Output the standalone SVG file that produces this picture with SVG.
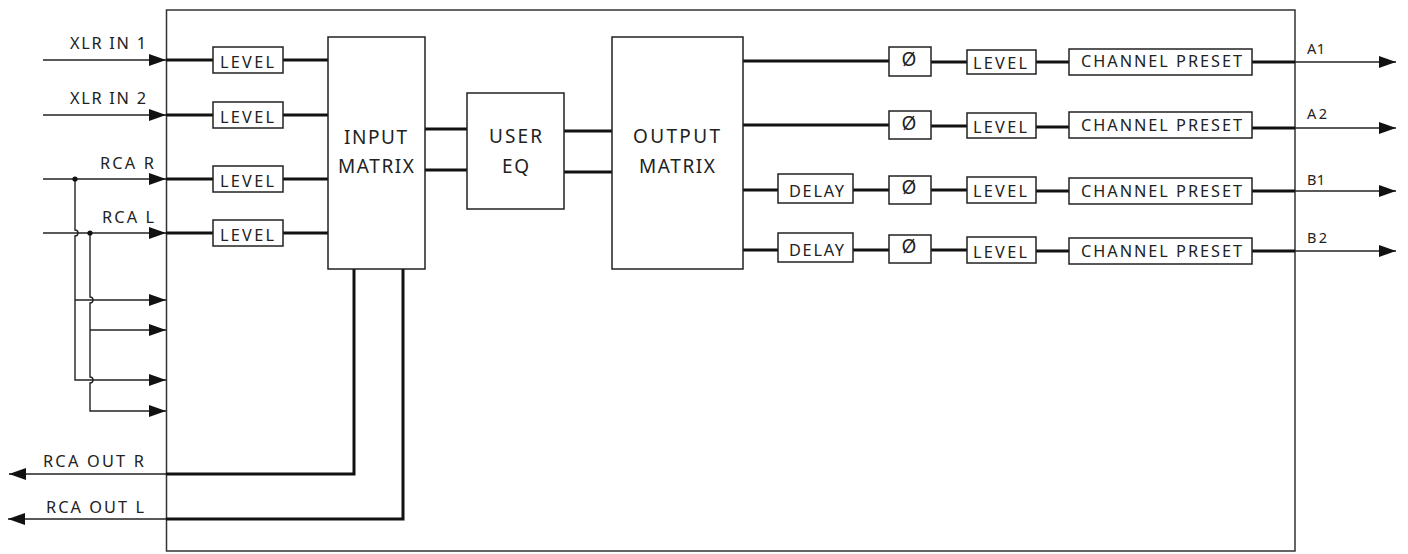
<svg xmlns="http://www.w3.org/2000/svg" width="1408" height="554" viewBox="0 0 1408 554">
<style>
.box{fill:#fff;stroke:#222;stroke-width:1.5}
.frame{fill:none;stroke:#333;stroke-width:1.5}
.thick{fill:none;stroke:#111;stroke-width:3}
.thin{fill:none;stroke:#222;stroke-width:1.4}
text{font-family:"Noto Sans","Liberation Sans",sans-serif;fill:#222;font-size:16.3px}
.big{font-size:19px}
.sm{font-size:14.5px}
.phi{font-size:19px}
</style>
<defs>
<marker id="arr" markerUnits="userSpaceOnUse" markerWidth="18" markerHeight="14" refX="17" refY="6" orient="auto">
<path d="M0,0 L17,6 L0,12 z" fill="#111"/>
</marker>
</defs>
<rect id="frame" class="frame" x="166.5" y="10" width="1128.5" height="541"/>
<g id="connectors">
<path class="thin" d="M43,60 H166" marker-end="url(#arr)"/>
<path class="thin" d="M43,115 H166" marker-end="url(#arr)"/>
<path class="thin" d="M43,179 H166" marker-end="url(#arr)"/>
<path class="thin" d="M43,233 H166" marker-end="url(#arr)"/>
<path class="thin" d="M75,179 V230 a3,3 0 0 1 0,6 V380 H166" marker-end="url(#arr)"/>
<path class="thin" d="M75,300 H166" marker-end="url(#arr)"/>
<path class="thin" d="M90,233 V297 a3,3 0 0 1 0,6 V377 a3,3 0 0 1 0,6 V411 H166" marker-end="url(#arr)"/>
<path class="thin" d="M90,330 H166" marker-end="url(#arr)"/>
<circle cx="75" cy="179" r="2.6" fill="#111"/>
<circle cx="90" cy="233" r="2.6" fill="#111"/>
<path class="thick" d="M166,60 H213 M283,60 H328 M166,115 H213 M283,115 H328 M166,179 H213 M283,179 H328 M166,233 H213 M283,233 H328"/>
<path class="thick" d="M354,269 V474 H166 M403,269 V519 H166"/>
<path class="thin" d="M166,474 H9" marker-end="url(#arr)"/>
<path class="thin" d="M166,519 H8" marker-end="url(#arr)"/>
<path class="thick" d="M425,129 H467 M425,170 H467 M564,131 H612 M564,172 H612"/>
<path class="thick" d="M743,61 H889 M931,62 H967 M1036,62 H1069 M1252,62 H1295"/>
<path class="thick" d="M743,125 H889 M931,126 H967 M1036,127 H1069 M1252,128 H1295"/>
<path class="thick" d="M743,190 H778 M853,190 H889 M931,190 H967 M1036,191 H1069 M1252,191 H1295"/>
<path class="thick" d="M743,250 H778 M853,250 H889 M931,250 H967 M1036,251 H1069 M1252,251 H1295"/>
<path class="thin" d="M1295,62 H1396" marker-end="url(#arr)"/>
<path class="thin" d="M1295,128 H1396" marker-end="url(#arr)"/>
<path class="thin" d="M1295,191 H1396" marker-end="url(#arr)"/>
<path class="thin" d="M1295,251 H1396" marker-end="url(#arr)"/>
</g>
<g id="labels-io">
<text x="70" y="49" textLength="76" lengthAdjust="spacing">XLR IN 1</text>
<text x="70" y="104" textLength="76" lengthAdjust="spacing">XLR IN 2</text>
<text x="100" y="169" textLength="54" lengthAdjust="spacing">RCA R</text>
<text x="102" y="223" textLength="52" lengthAdjust="spacing">RCA L</text>
<text x="43" y="467" textLength="101" lengthAdjust="spacing">RCA OUT R</text>
<text x="46" y="513" textLength="98" lengthAdjust="spacing">RCA OUT L</text>
<text class="sm" x="1307" y="54" textLength="18" lengthAdjust="spacing">A1</text>
<text class="sm" x="1307" y="119" textLength="20" lengthAdjust="spacing">A2</text>
<text class="sm" x="1307" y="185" textLength="18" lengthAdjust="spacing">B1</text>
<text class="sm" x="1307" y="243" textLength="20" lengthAdjust="spacing">B2</text>
</g>
<g id="in-level-1"><rect class="box" x="213" y="47" width="70" height="26"/><text x="220" y="68" textLength="54" lengthAdjust="spacing">LEVEL</text></g>
<g id="in-level-2"><rect class="box" x="213" y="102" width="70" height="26"/><text x="220" y="123" textLength="54" lengthAdjust="spacing">LEVEL</text></g>
<g id="in-level-3"><rect class="box" x="213" y="166" width="70" height="26"/><text x="220" y="187" textLength="54" lengthAdjust="spacing">LEVEL</text></g>
<g id="in-level-4"><rect class="box" x="213" y="220" width="70" height="26"/><text x="220" y="241" textLength="54" lengthAdjust="spacing">LEVEL</text></g>
<g id="input-matrix"><rect class="box" x="328" y="37" width="97" height="232"/>
<text class="big" x="344" y="143.5" textLength="63" lengthAdjust="spacing">INPUT</text>
<text class="big" x="338" y="173" textLength="76" lengthAdjust="spacing">MATRIX</text></g>
<g id="user-eq"><rect class="box" x="467" y="93" width="97" height="116"/>
<text class="big" x="489" y="142.5" textLength="53" lengthAdjust="spacing">USER</text>
<text class="big" x="502" y="172.5" textLength="27" lengthAdjust="spacing">EQ</text></g>
<g id="output-matrix"><rect class="box" x="612" y="37" width="131" height="232"/>
<text class="big" x="633" y="142.5" textLength="87" lengthAdjust="spacing">OUTPUT</text>
<text class="big" x="639" y="172.5" textLength="76" lengthAdjust="spacing">MATRIX</text></g>
<g id="delay-b1"><rect class="box" x="778" y="174" width="75" height="29"/><text x="789" y="196.5" textLength="55" lengthAdjust="spacing">DELAY</text></g>
<g id="delay-b2"><rect class="box" x="778" y="233" width="75" height="29"/><text x="789" y="255.5" textLength="55" lengthAdjust="spacing">DELAY</text></g>
<g id="phase-a1"><rect class="box" x="889" y="47" width="42" height="29"/><text class="phi" x="909" y="66" text-anchor="middle">Ø</text></g>
<g id="phase-a2"><rect class="box" x="889" y="111" width="42" height="28"/><text class="phi" x="909" y="129.5" text-anchor="middle">Ø</text></g>
<g id="phase-b1"><rect class="box" x="889" y="176" width="42" height="28"/><text class="phi" x="909" y="193.5" text-anchor="middle">Ø</text></g>
<g id="phase-b2"><rect class="box" x="889" y="235" width="42" height="28"/><text class="phi" x="909" y="252.5" text-anchor="middle">Ø</text></g>
<g id="out-level-a1"><rect class="box" x="967" y="50" width="69" height="24"/><text x="973" y="68.5" textLength="54" lengthAdjust="spacing">LEVEL</text></g>
<g id="out-level-a2"><rect class="box" x="967" y="113" width="69" height="25"/><text x="973" y="132.5" textLength="54" lengthAdjust="spacing">LEVEL</text></g>
<g id="out-level-b1"><rect class="box" x="967" y="177" width="69" height="26"/><text x="973" y="197" textLength="54" lengthAdjust="spacing">LEVEL</text></g>
<g id="out-level-b2"><rect class="box" x="967" y="237" width="69" height="26"/><text x="973" y="257.5" textLength="54" lengthAdjust="spacing">LEVEL</text></g>
<g id="preset-a1"><rect class="box" x="1069" y="49" width="183" height="26"/><text x="1081" y="67" textLength="161" lengthAdjust="spacing">CHANNEL PRESET</text></g>
<g id="preset-a2"><rect class="box" x="1069" y="112" width="183" height="26"/><text x="1081" y="130.5" textLength="161" lengthAdjust="spacing">CHANNEL PRESET</text></g>
<g id="preset-b1"><rect class="box" x="1069" y="178" width="183" height="26"/><text x="1081" y="196.5" textLength="161" lengthAdjust="spacing">CHANNEL PRESET</text></g>
<g id="preset-b2"><rect class="box" x="1069" y="238" width="183" height="26"/><text x="1081" y="257" textLength="161" lengthAdjust="spacing">CHANNEL PRESET</text></g>
</svg>
